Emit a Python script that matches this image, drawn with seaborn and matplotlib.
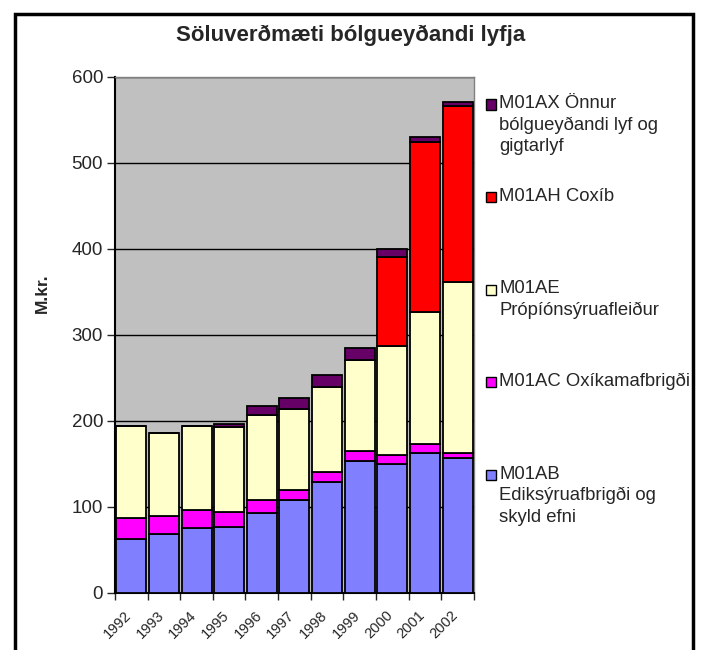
import numpy as np
import seaborn as sns
import matplotlib.pyplot as plt
from matplotlib.patches import Rectangle
from matplotlib.transforms import ScaledTranslation

years = ['1992', '1993', '1994', '1995', '1996', '1997', '1998', '1999', '2000', '2001', '2002']

# M.kr. for each group, bottom to top of the stack
m01ab = [62, 68, 75, 77, 93, 108, 129, 153, 150, 163, 157]
m01ac = [25, 21, 21, 17, 15, 12, 11, 12, 10, 10, 6]
m01ae = [107, 97, 98, 99, 99, 94, 99, 106, 127, 153, 198]
m01ah = [0, 0, 0, 0, 0, 0, 0, 0, 103, 198, 205]
m01ax = [0, 0, 0, 3, 10, 12, 14, 14, 10, 6, 5]

series = [m01ab, m01ac, m01ae, m01ah, m01ax]
colors = ['#8080FF', '#FF00FF', '#FFFFCC', '#FF0000', '#660066']
labels = ['M01AB\nEdiksýruafbrigði og\nskyld efni',
          'M01AC Oxíkamafbrigði',
          'M01AE\nPrópíónsýruafleiður',
          'M01AH Coxíb',
          'M01AX Önnur\nbólgueyðandi lyf og\ngigtarlyf']

sns.set_style('white')
plt.rcParams['font.family'] = ['Liberation Sans', 'DejaVu Sans']

fig = plt.figure(figsize=(7.01, 6.5), dpi=100)
ax = fig.add_axes([0.164, 0.088, 0.512, 0.794])
ax.set_facecolor('#C0C0C0')

bottom = np.zeros(len(years))
for vals, col in zip(series, colors):
    sns.barplot(x=years, y=vals, bottom=bottom, color=col, width=0.92,
                edgecolor='black', linewidth=1.3, saturation=1, ax=ax, zorder=3)
    bottom = bottom + np.array(vals)

ax.set_ylim(0, 600)
ax.set_xlim(-0.5, len(years) - 0.5)
ax.set_yticks(range(0, 601, 100))
ax.yaxis.grid(True, color='black', linewidth=1, zorder=0)
ax.set_axisbelow(True)

ax.tick_params(axis='y', labelsize=13.5, length=5.5, width=1, direction='out', left=True, pad=3)
ax.tick_params(axis='x', which='major', length=0, labelsize=10.5, pad=11)
ax.set_xticks(np.arange(-0.5, len(years), 1), minor=True)
ax.tick_params(axis='x', which='minor', length=5, width=1, direction='out', bottom=True)
shift = ScaledTranslation(-0.07, 0, fig.dpi_scale_trans)
for t in ax.get_xticklabels():
    t.set_rotation(45)
    t.set_ha('right')
    t.set_va('top')
    t.set_rotation_mode('anchor')
    t.set_transform(t.get_transform() + shift)

for s in ['left', 'bottom']:
    ax.spines[s].set_color('black')
    ax.spines[s].set_linewidth(1.5)
for s in ['top', 'right']:
    ax.spines[s].set_color('#808080')
    ax.spines[s].set_linewidth(1)

ax.set_xlabel('')
ax.set_ylabel('M.kr.', fontsize=12.5, fontweight='bold')
ax.yaxis.set_label_coords(-0.18, 0.58)

fig.text(0.5, 0.945, 'Söluverðmæti bólgueyðandi lyfja', ha='center', va='center',
         fontsize=16, fontweight='bold')

# legend in Excel style: fixed spacing, square aligned with first line
leg_top = 0.84
leg_step = 0.1425
for i, (lab, col) in enumerate(zip(labels[::-1], colors[::-1])):
    y = leg_top - i * leg_step
    fig.add_artist(Rectangle((0.693, y - 0.0085), 0.0145, 0.0155, transform=fig.transFigure,
                             facecolor=col, edgecolor='black', linewidth=1))
    fig.text(0.712, y + 0.0135, lab, ha='left', va='top', fontsize=13.3, linespacing=1.33)

# chart border
fig.add_artist(Rectangle((0.0207, -0.05), 0.968, 1.028, transform=fig.transFigure,
                         fill=False, edgecolor='black', linewidth=2.5))

fig.savefig('out.png', dpi=100)
